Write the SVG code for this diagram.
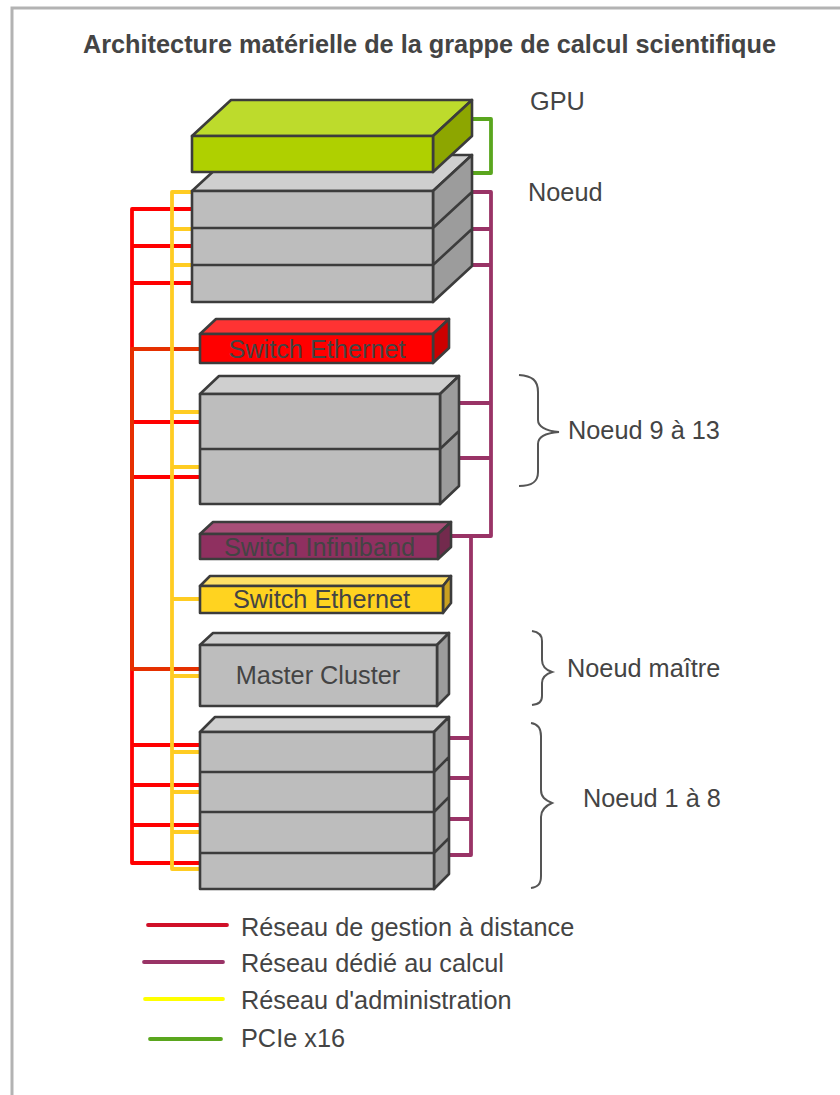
<svg xmlns="http://www.w3.org/2000/svg" width="840" height="1095" viewBox="0 0 840 1095">
<style>
text{font-family:"Liberation Sans",Arial,sans-serif;fill:#444;font-size:25.3px}
.t{font-weight:bold}
.w{fill:none;stroke-width:3.8;stroke-linejoin:round;stroke-linecap:butt}
.r{stroke:#ff0000}.y{stroke:#ffcc22}.p{stroke:#993366}.g{stroke:#5aa61e}.o{stroke:#e53000}
.b{stroke:#3c3c3c;stroke-width:2.6;stroke-linejoin:round}
.gf{fill:#bdbdbd}.gt{fill:#cfcfcf}.gs{fill:#9c9c9c}
.br{fill:none;stroke:#555;stroke-width:2}
.l{stroke-width:3.8;stroke-linecap:round}
</style>
<rect x="12" y="8" width="840" height="1100" fill="#fff" stroke="#b3b3b3" stroke-width="3"/>
<text class="t" x="429.500" y="53" text-anchor="middle">Architecture matérielle de la grappe de calcul scientifique</text>

<g id="connectors">
<path class="w r" d="M192 209H132V863H200M132 246H192M132 283H192M132 745H200M132 785H200M132 825H200"/>
<path class="w o" d="M200 349H132V669H200"/>
<path class="w r" d="M134 422H200M134 477H200"/>
<path class="w y" d="M192 192H172V869H200M172 229H192M172 265H192M172 412H200M172 467H200M172 599H200M172 676H200M172 752H200M172 792H200M172 832H200"/>
<path class="w p" d="M472 192H491V536H451M472 229H491M472 265H491M459 403H491M459 458H491M471 536V855H449M449 738H471M449 778H471M449 819H471"/>
<path class="w g" d="M472 119H491V173H472"/>
</g>

<g id="node-stack">
<path class="b gt" d="M192 191L231 155H472L433 191Z"/>
<path class="b gs" d="M433 191L472 155V192L433 228ZM433 228L472 192V229L433 265ZM433 265L472 229V266L433 302Z"/>
<path class="b gf" d="M192 191H433V228H192ZM192 228H433V265H192ZM192 265H433V302H192Z"/>
</g>
<g id="gpu">
<path class="b" fill="#bddb2c" d="M192 136L231 100H472L433 136Z"/>
<path class="b" fill="#8da600" d="M433 136L472 100V136L433 172Z"/>
<path class="b" fill="#afd000" d="M192 136H433V172H192Z"/>
</g>
<g id="switch-red">
<path class="b" fill="#ff3333" d="M200 334L216 319H449L433 334Z"/>
<path class="b" fill="#cc0000" d="M433 334L449 319V348L433 363Z"/>
<path class="b" fill="#ff0000" d="M200 334H433V363H200Z"/>
<text x="317" y="358" text-anchor="middle">Switch Ethernet</text>
</g>
<g id="nodes-9-13">
<path class="b gt" d="M200 394L219 376H459L440 394Z"/>
<path class="b gs" d="M440 394L459 376V431L440 449ZM440 449L459 431V486L440 504Z"/>
<path class="b gf" d="M200 394H440V449H200ZM200 449H440V504H200Z"/>
</g>
<g id="switch-infiniband">
<path class="b" fill="#a84f78" d="M200 534L213 522H451L438 534Z"/>
<path class="b" fill="#732a4d" d="M438 534L451 522V547L438 559Z"/>
<path class="b" fill="#8f3060" d="M200 534H438V559H200Z"/>
<text x="319.500" y="555.500" text-anchor="middle">Switch Infiniband</text>
</g>
<g id="switch-yellow">
<path class="b" fill="#ffe066" d="M200 586L210 576H451L443 586Z"/>
<path class="b" fill="#c9a020" d="M443 586L451 576V603L443 613Z"/>
<path class="b" fill="#ffd320" d="M200 586H443V613H200Z"/>
<text x="321.500" y="607.500" text-anchor="middle">Switch Ethernet</text>
</g>
<g id="master">
<path class="b gt" d="M200 645L213 633H449L437 645Z"/>
<path class="b gs" d="M437 645L449 633V694L437 706Z"/>
<path class="b gf" d="M200 645H437V706H200Z"/>
<text x="318" y="683.500" text-anchor="middle">Master Cluster</text>
</g>
<g id="nodes-1-8">
<path class="b gt" d="M200 732L215 717H449L434 732Z"/>
<path class="b gs" d="M434 732L449 717V757L434 772ZM434 772L449 757V797L434 812ZM434 812L449 797V838L434 853ZM434 853L449 838V874L434 889Z"/>
<path class="b gf" d="M200 732H434V772H200ZM200 772H434V812H200ZM200 812H434V853H200ZM200 853H434V889H200Z"/>
</g>

<g id="braces">
<path class="br" d="M519 375C532 376 538 380 538 392V420C538 426 545 431 559 432C545 433 538 437 538 444V472C538 482 532 486 519 486"/>
<path class="br" d="M532 631C539 632 542 635 542 641V660C542 666 546 670 552 672C546 674 542 677 542 683V696C542 702 539 704 532 705"/>
<path class="br" d="M531 723C538 724 541 728 541 736V790C541 797 545 800 552 803C545 806 541 810 541 817V876C541 884 538 887 531 888"/>
</g>

<g id="labels">
<text x="530" y="110">GPU</text>
<text x="528" y="201">Noeud</text>
<text x="568" y="439">Noeud 9 à 13</text>
<text x="567" y="677">Noeud maître</text>
<text x="583" y="807">Noeud 1 à 8</text>
</g>
<g id="legend">
<path class="l" stroke="#d01028" d="M148 925H227"/>
<path class="l" stroke="#993366" d="M144 962H223"/>
<path class="l" stroke="#ffff00" d="M145 999H223"/>
<path class="l" stroke="#5aa61e" d="M150 1039H221"/>
<text x="241" y="936">Réseau de gestion à distance</text>
<text x="241" y="972">Réseau dédié au calcul</text>
<text x="241" y="1009">Réseau d'administration</text>
<text x="241" y="1047">PCIe x16</text>
</g>
</svg>
